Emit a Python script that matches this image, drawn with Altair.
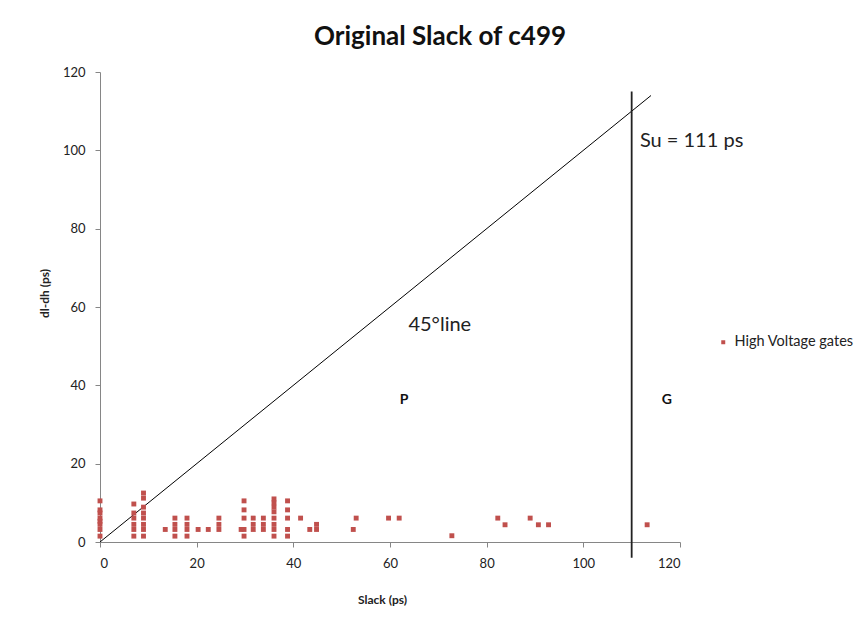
import altair as alt
import pandas as pd

# ---- data ----
slack = [
    0, 0, 0, 0, 0, 0, 0, 0,
    7, 7, 7, 7, 7, 7,
    9, 9, 9, 9, 9, 9, 9, 9,
    13.5,
    15.5, 15.5, 15.5, 15.5,
    18, 18, 18, 18,
    20.3, 22.4,
    24.6, 24.6, 24.6,
    29.2,
    29.8, 29.8, 29.8, 29.8, 29.8,
    31.7, 31.7, 31.7,
    33.8, 33.8, 33.8,
    36, 36, 36, 36, 36, 36, 36, 36,
    38.8, 38.8, 38.8, 38.8, 38.8,
    41.5, 43.4, 44.8, 44.8,
    52.4, 53,
    59.7, 61.9,
    72.8,
    82.3, 83.8,
    89, 90.7, 92.8,
    113.2,
]
dldh = [
    1.5, 3.2, 4.5, 5.3, 6.1, 7.4, 8.2, 10.5,
    1.5, 3.2, 4.5, 6.1, 7.4, 9.7,
    1.5, 3.2, 4.5, 6.1, 7.4, 8.9, 11.2, 12.5,
    3.2,
    1.5, 3.2, 4.5, 6.1,
    1.5, 3.2, 4.5, 6.1,
    3.2, 3.2,
    3.2, 4.5, 6.1,
    3.2,
    1.5, 3.2, 6.1, 8.2, 10.5,
    3.2, 4.5, 6.1,
    3.2, 4.5, 6.1,
    1.5, 3.2, 4.5, 6.1, 7.7, 8.9, 10.0, 11.0,
    1.5, 3.2, 6.1, 8.2, 10.5,
    6.1, 3.2, 3.2, 4.5,
    3.2, 6.1,
    6.1, 6.1,
    1.6,
    6.1, 4.4,
    6.1, 4.4, 4.4,
    4.4,
]
series_name = "High Voltage gates"

line45_x = [0, 114]
line45_y = [0, 114]
su_x = [110, 110]
su_y = [-4, 115]

su_text = ["Su = 111 ps"]
su_pos = [111.7, 102.4]
deg_text = ["45°line"]
deg_pos = [70.3, 55.5]
region_text = ["P", "G"]
region_x = [62.9, 117.3]
region_y = [36.3, 36.3]

FONT = "Lato"
RED = "#C0504D"

pts = pd.DataFrame({"slack": slack, "dldh": dldh, "series": [series_name] * len(slack)})
diag = pd.DataFrame({"x": line45_x, "y": line45_y})
vline = pd.DataFrame({"x": su_x, "y": su_y})
su_df = pd.DataFrame({"text": su_text, "x": [su_pos[0]], "y": [su_pos[1]]})
deg_df = pd.DataFrame({"text": deg_text, "x": [deg_pos[0]], "y": [deg_pos[1]]})
reg_df = pd.DataFrame({"text": region_text, "x": region_x, "y": region_y})

xscale = alt.Scale(domain=[0, 120], nice=False)
yscale = alt.Scale(domain=[0, 120], nice=False)

points = alt.Chart(pts).mark_square(size=24, opacity=1).encode(
    x=alt.X("slack:Q", scale=xscale, title="Slack (ps)",
            axis=alt.Axis(values=[0, 20, 40, 60, 80, 100, 120], tickSize=5,
                          labelPadding=10, titlePadding=24, titleX=282)),
    y=alt.Y("dldh:Q", scale=yscale, title="dl-dh (ps)",
            axis=alt.Axis(values=[0, 20, 40, 60, 80, 100, 120], tickSize=5,
                          labelPadding=10, titlePadding=11, titleY=221)),
    color=alt.Color("series:N", scale=alt.Scale(range=[RED]),
                    legend=alt.Legend(title=None, orient="none", legendX=616, legendY=263,
                                      symbolType="square", symbolSize=16, labelOffset=4,
                                      labelFontSize=14.5, labelFont=FONT, labelColor="#222",
                                      padding=0)),
)

diag_line = alt.Chart(diag).mark_line(color="black", strokeWidth=1).encode(
    x=alt.X("x:Q", scale=xscale), y=alt.Y("y:Q", scale=yscale)
)
su_line = alt.Chart(vline).mark_line(color="#222", strokeWidth=1.8).encode(
    x=alt.X("x:Q", scale=xscale), y=alt.Y("y:Q", scale=yscale)
)

su_label = alt.Chart(su_df).mark_text(
    font=FONT, fontSize=20, color="#222", baseline="middle", align="left"
).encode(x="x:Q", y="y:Q", text="text:N")
deg_label = alt.Chart(deg_df).mark_text(
    font=FONT, fontSize=20, color="#222", baseline="middle", align="center"
).encode(x="x:Q", y="y:Q", text="text:N")
bold_labels = alt.Chart(reg_df).mark_text(
    font=FONT, fontSize=14, fontWeight="bold", color="#111", baseline="middle", align="center"
).encode(x="x:Q", y="y:Q", text="text:N")

chart = alt.layer(diag_line, su_line, points, su_label, deg_label, bold_labels).properties(
    width=580,
    height=470,
    autosize=alt.AutoSizeParams(type="none"),
    padding={"left": 92, "top": 64, "right": 175, "bottom": 79},
    title=alt.TitleParams("Original Slack of c499", font=FONT, fontSize=26,
                          fontWeight="bold", color="#111", dx=50, offset=16),
).configure_view(stroke=None).configure_axis(
    grid=False, domainColor="#868686", tickColor="#868686",
    labelFont=FONT, titleFont=FONT, labelFontSize=13, titleFontSize=12,
    titleFontWeight="bold", labelColor="#222", titleColor="#222",
)

chart.save("out.html", embed_options={"renderer": "svg", "actions": False})
